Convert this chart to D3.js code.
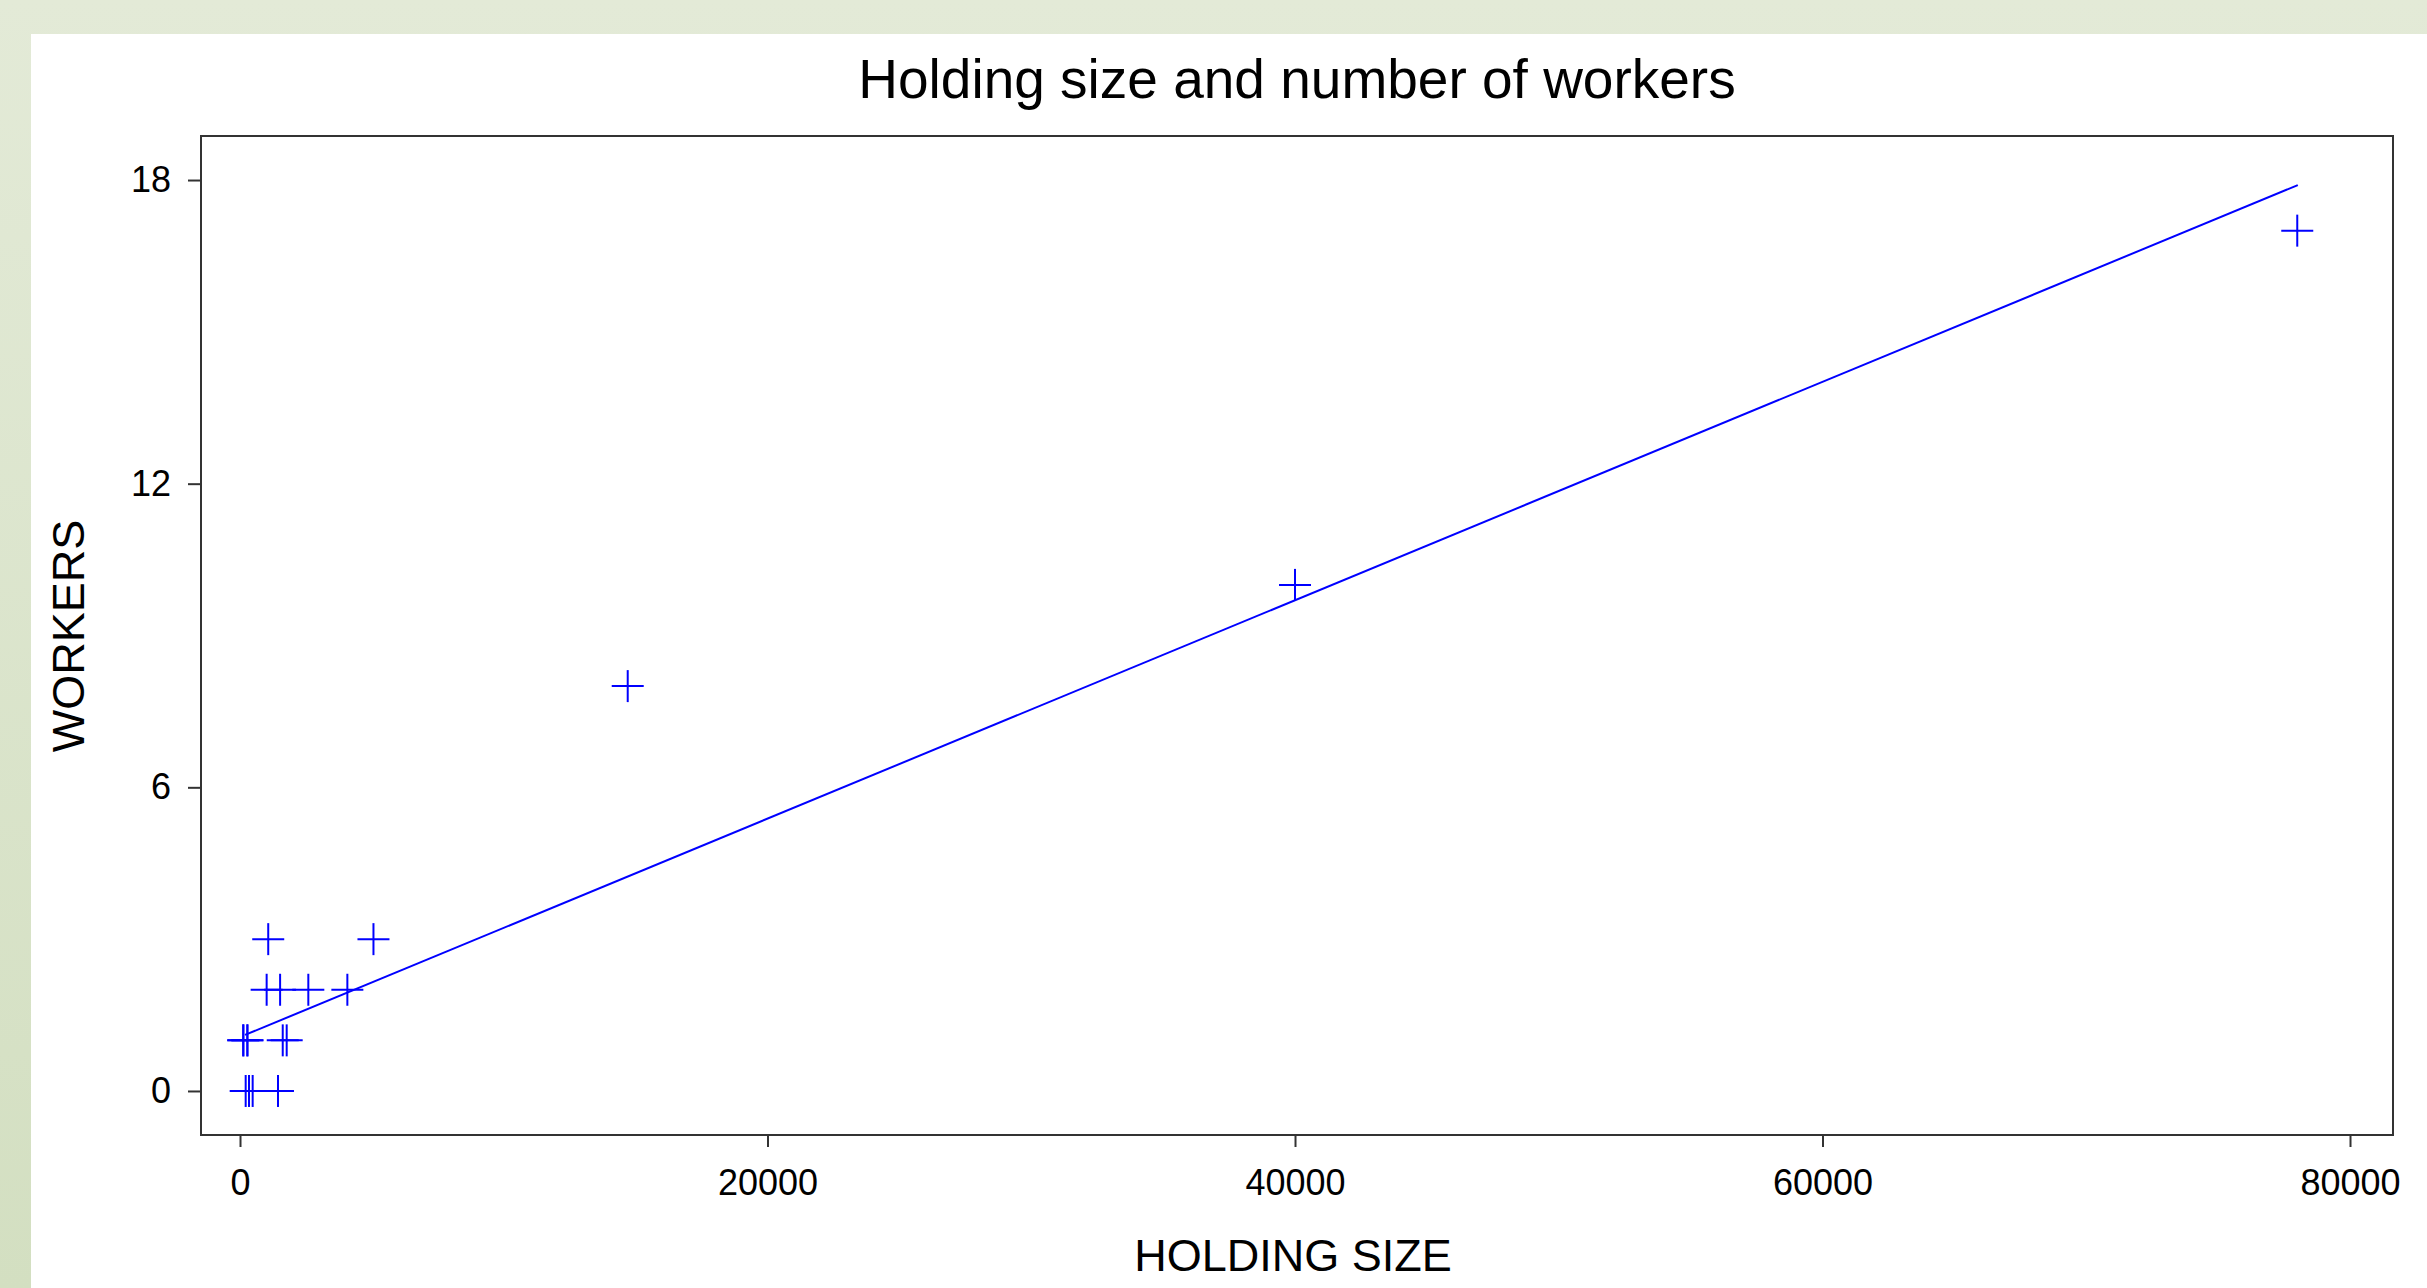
<!DOCTYPE html>
<html>
<head>
<meta charset="utf-8">
<script src="https://cdn.jsdelivr.net/npm/d3@7"></script>
<style>
  html, body { margin: 0; padding: 0; overflow: hidden; }
  svg { display: block; font-family: "Liberation Sans", Arial, sans-serif; }
</style>
</head>
<body>
<script>
// holding size (x) and number of workers (y)
var holdingSize = [120, 280, 215, 340, 480, 1440, 130, 280, 1620, 1770,
                   1010, 1520, 2590, 4070, 1070, 5060, 14700, 40000, 78000];
var workers     = [1, 1, 0, 0, 0, 0, 1, 1, 1, 1,
                   2, 2, 2, 2, 3, 3, 8, 10, 17];

// fitted line end points
var fitX = [190, 78020];
var fitY = [1.107, 17.9];

var xTicks = [0, 20000, 40000, 60000, 80000];
var yTicks = [0, 6, 12, 18];

var width = 2427;
var height = 1288;

// plot frame (plotTop, since "top" is taken by window.top)
var plotLeft = 201, plotRight = 2393, plotTop = 136, plotBottom = 1135;

var svg = d3.select("body").append("svg")
    .attr("width", width)
    .attr("height", height);

// background
var defs = svg.append("defs");
var grad = defs.append("linearGradient")
    .attr("id", "bg")
    .attr("x1", 0).attr("y1", 0).attr("x2", 0).attr("y2", 1);
grad.append("stop").attr("offset", "0%").attr("stop-color", "#e3ead7");
grad.append("stop").attr("offset", "100%").attr("stop-color", "#d3dfc1");

svg.append("rect")
    .attr("width", width).attr("height", height)
    .attr("fill", "url(#bg)");
svg.append("rect")
    .attr("x", 31).attr("y", 34)
    .attr("width", width - 31).attr("height", height - 34)
    .attr("fill", "#ffffff");

// scales
var x = d3.scaleLinear().domain([-1479, 81630]).range([plotLeft, plotRight]);
var y = d3.scaleLinear().domain([-0.87, 18.87]).range([plotBottom, plotTop]);

// axes
var xAxis = svg.append("g")
    .attr("transform", "translate(0," + plotBottom + ")")
    .call(d3.axisBottom(x).tickValues(xTicks).tickSize(12).tickPadding(22).tickFormat(d3.format("d")));
var yAxis = svg.append("g")
    .attr("transform", "translate(" + plotLeft + ",0)")
    .call(d3.axisLeft(y).tickValues(yTicks).tickSize(13).tickPadding(17));

[xAxis, yAxis].forEach(function(g) {
    g.select(".domain").remove();
    g.selectAll("line").attr("stroke", "#333").attr("stroke-width", 2);
    g.selectAll("text")
        .attr("fill", "#000")
        .style("font-size", "36px")
        .style("font-family", "'Liberation Sans', Arial, sans-serif");
});

// frame
svg.append("rect")
    .attr("x", plotLeft).attr("y", plotTop)
    .attr("width", plotRight - plotLeft).attr("height", plotBottom - plotTop)
    .attr("fill", "none")
    .attr("stroke", "#333")
    .attr("stroke-width", 2);

// fitted line
var line = d3.line()
    .x(function(d) { return x(d[0]); })
    .y(function(d) { return y(d[1]); });

svg.append("path")
    .datum(d3.zip(fitX, fitY))
    .attr("d", line)
    .attr("fill", "none")
    .attr("stroke", "#0000ff")
    .attr("stroke-width", 2);

// plus markers
var arm = 16;
var pts = svg.append("g").selectAll("g")
    .data(d3.zip(holdingSize, workers))
    .enter()
    .append("g")
    .attr("transform", function(d) { return "translate(" + x(d[0]) + "," + y(d[1]) + ")"; });

pts.append("line")
    .attr("x1", -arm).attr("x2", arm).attr("y1", 0).attr("y2", 0);
pts.append("line")
    .attr("x1", 0).attr("x2", 0).attr("y1", -arm).attr("y2", arm);
pts.selectAll("line")
    .attr("stroke", "#0000ff")
    .attr("stroke-width", 2);

// titles
svg.append("text")
    .attr("x", 1297).attr("y", 98)
    .attr("text-anchor", "middle")
    .style("font-size", "55px")
    .text("Holding size and number of workers");

svg.append("text")
    .attr("x", 1293).attr("y", 1271)
    .attr("text-anchor", "middle")
    .style("font-size", "45px")
    .text("HOLDING SIZE");

svg.append("text")
    .attr("transform", "translate(84,636) rotate(-90)")
    .attr("text-anchor", "middle")
    .style("font-size", "45px")
    .text("WORKERS");
</script>
</body>
</html>
